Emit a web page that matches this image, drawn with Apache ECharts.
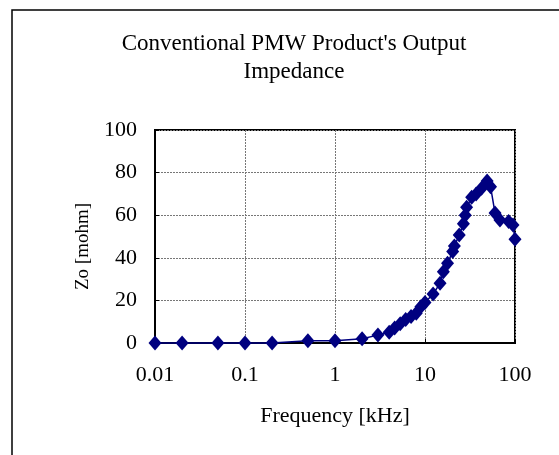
<!DOCTYPE html>
<html><head><meta charset="utf-8">
<script src="https://cdn.jsdelivr.net/npm/echarts@6/dist/echarts.min.js"></script>
<style>html,body{margin:0;padding:0;background:#fff}#c{width:559px;height:455px}</style>
</head><body><div id="c"></div>
<script>
const freqKHz = [0.01,0.02,0.05,0.1,0.2,0.5,1,2,3,4,4.6,5.3,6.1,7,8,9,10,12.3,14.7,16,17.8,20.3,21.2,24,26.7,28,29,33,37,42.5,49,53.5,60,68,85,95,100];
const zoMohm = [0,0,0,0,0,1,1,2,3.7,5,7,9,11,12.4,14,17,19,23,28,33.5,37.4,43,45.5,50.7,56,60,63.7,68.4,70,72.6,76,73.4,61,57.7,57,55.4,48.7];
const xTicks = ['0.01','0.1','1','10','100'];
const yTicks = [0,20,40,60,80,100];
const titleLines = ["Conventional PMW Product's Output","Impedance"];

const chart = echarts.init(document.getElementById('c'));
const serif = '"Liberation Serif","Times New Roman",serif';
chart.setOption({
  backgroundColor:'#fff',
  animation:false,
  title:{text:titleLines.join('\n'),left:289,top:25,textAlign:'center',
    textStyle:{fontFamily:serif,fontSize:23,fontWeight:'normal',color:'#000',lineHeight:28}},
  graphic:[{type:'rect',shape:{x:12,y:10,width:560,height:460},style:{fill:'none',stroke:'#000',lineWidth:1.5}}],
  grid:{left:155,right:44,top:130,bottom:112,show:true,borderColor:'#000',borderWidth:2,backgroundColor:'transparent'},
  xAxis:{type:'log',logBase:10,min:0.01,max:100,
    name:'Frequency [kHz]',nameLocation:'middle',nameGap:62,
    nameTextStyle:{fontFamily:serif,fontSize:22,color:'#000'},
    axisLine:{lineStyle:{color:'#000',width:2}},
    axisTick:{show:true,inside:true,length:4,lineStyle:{color:'#000'}},
    axisLabel:{fontFamily:serif,fontSize:22,color:'#000',margin:21,
      formatter:v=>{const i=Math.round(Math.log10(v))+2;return xTicks[i]!==undefined?xTicks[i]:'';}},
    splitLine:{show:true,lineStyle:{color:'#777',type:[2,1],width:1}},
    minorTick:{show:false}},
  yAxis:{type:'value',min:yTicks[0],max:yTicks[yTicks.length-1],interval:20,
    name:'Zo [mohm]',nameLocation:'middle',nameGap:62,
    nameTextStyle:{fontFamily:serif,fontSize:19,color:'#000',padding:[0,20,0,0]},
    axisLine:{show:true,lineStyle:{color:'#000',width:2}},
    axisTick:{show:true,inside:true,length:4,lineStyle:{color:'#000'}},
    axisLabel:{fontFamily:serif,fontSize:22,color:'#000',margin:18},
    splitLine:{show:true,lineStyle:{color:'#777',type:[2,1],width:1}}},
  series:[{type:'line',data:freqKHz.map((f,i)=>[f,zoMohm[i]]),
    symbol:'diamond',symbolSize:[13,15],
    itemStyle:{color:'#000080'},lineStyle:{color:'#000080',width:1.5},clip:false}]
});
</script></body></html>
